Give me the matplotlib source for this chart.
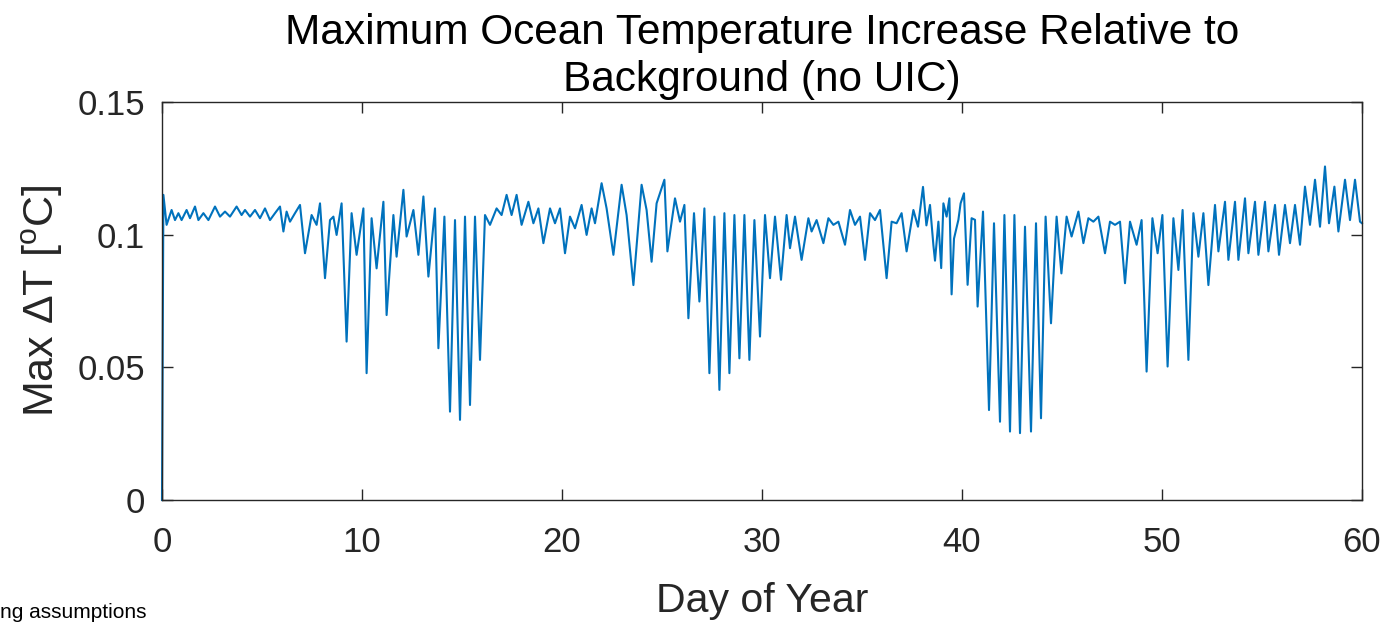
import numpy as np
import matplotlib
matplotlib.use("Agg")
import matplotlib.pyplot as plt

plt.rcParams['font.family'] = ['Liberation Sans', 'DejaVu Sans']
plt.rcParams['mathtext.fontset'] = 'custom'
plt.rcParams['mathtext.rm'] = 'Liberation Sans'
plt.rcParams['mathtext.it'] = 'Liberation Sans:italic'
plt.rcParams['mathtext.bf'] = 'Liberation Sans:bold'

# (day, max dT) vertices, split into segments
seg_days_00_08 = [0.00, 0.07, 0.23, 0.48, 0.65, 0.82, 0.98, 1.23, 1.40, 1.65, 1.82, 2.07, 2.32, 2.65, 2.90,
                  3.15, 3.40, 3.73, 3.98, 4.15, 4.40, 4.65, 4.90, 5.15, 5.40, 5.65, 5.90, 6.07, 6.23, 6.40,
                  6.65, 6.90, 7.15, 7.48, 7.73, 7.90]
seg_vals_00_08 = [0.0, 0.115, 0.1037, 0.1093, 0.1055, 0.1081, 0.1055, 0.1093, 0.1062, 0.1106, 0.1055, 0.1081,
                  0.1055, 0.1106, 0.1068, 0.1087, 0.1068, 0.1106, 0.1074, 0.1093, 0.1068, 0.1093, 0.1062,
                  0.1099, 0.1055, 0.1081, 0.1106, 0.1012, 0.1087, 0.1049, 0.1081, 0.1112, 0.0930, 0.1074,
                  0.1037, 0.1118]

seg_days_08_15 = [8.15, 8.40, 8.57, 8.73, 8.98, 9.23, 9.48, 9.73, 10.07, 10.23, 10.48, 10.73, 11.07, 11.23,
                  11.57, 11.73, 12.07, 12.23, 12.57, 12.82, 13.07, 13.32, 13.65, 13.82, 14.12, 14.40, 14.65,
                  14.90]
seg_vals_08_15 = [0.0836, 0.1055, 0.1068, 0.0999, 0.1118, 0.0597, 0.1081, 0.0924, 0.1099, 0.0478, 0.1062,
                  0.0873, 0.1124, 0.0697, 0.1074, 0.0917, 0.1169, 0.0993, 0.1093, 0.0924, 0.1144, 0.0842,
                  0.1099, 0.0572, 0.1068, 0.0333, 0.1055, 0.0302]

seg_days_15_23 = [15.15, 15.40, 15.65, 15.90, 16.15, 16.40, 16.73, 16.98, 17.23, 17.48, 17.73, 17.98, 18.32,
                  18.57, 18.82, 19.07, 19.40, 19.65, 19.90, 20.15, 20.40, 20.65, 20.98, 21.23, 21.48, 21.65,
                  21.98, 22.23, 22.57]
seg_vals_15_23 = [0.1068, 0.0358, 0.1068, 0.0528, 0.1074, 0.1037, 0.1099, 0.1074, 0.1150, 0.1074, 0.1150,
                  0.1037, 0.1124, 0.1043, 0.1099, 0.0968, 0.1099, 0.1043, 0.1099, 0.0930, 0.1068, 0.1024,
                  0.1112, 0.0999, 0.1099, 0.1043, 0.1194, 0.1099, 0.0924]

seg_days_23_30 = [22.98, 23.23, 23.57, 23.98, 24.23, 24.48, 24.73, 25.12, 25.27, 25.65, 25.90, 26.12, 26.32,
                  26.60, 26.87, 27.12, 27.37, 27.62, 27.87, 28.12, 28.37, 28.62, 28.87, 29.12, 29.37, 29.62,
                  29.90]
seg_vals_23_30 = [0.1188, 0.1074, 0.0810, 0.1188, 0.1093, 0.0898, 0.1118, 0.1207, 0.0937, 0.1137, 0.1049,
                  0.1112, 0.0685, 0.1081, 0.0748, 0.1099, 0.0478, 0.1068, 0.0415, 0.1081, 0.0478, 0.1074,
                  0.0534, 0.1074, 0.0528, 0.1055, 0.0616]

seg_days_30_38 = [30.15, 30.40, 30.65, 30.95, 31.23, 31.40, 31.65, 31.98, 32.32, 32.48, 32.73, 33.07, 33.32,
                  33.57, 33.82, 34.15, 34.40, 34.65, 34.90, 35.15, 35.40, 35.65, 35.90, 36.23, 36.48, 36.73,
                  36.98, 37.23, 37.57, 37.80]
seg_vals_30_38 = [0.1074, 0.0836, 0.1068, 0.0830, 0.1074, 0.0949, 0.1068, 0.0905, 0.1062, 0.1012, 0.1055,
                  0.0968, 0.1062, 0.1037, 0.1049, 0.0962, 0.1093, 0.1037, 0.1068, 0.0905, 0.1081, 0.1055,
                  0.1093, 0.0836, 0.1049, 0.1043, 0.1081, 0.0937, 0.1093, 0.1030]

seg_days_38_45 = [38.05, 38.22, 38.40, 38.57, 38.65, 38.82, 38.96, 39.07, 39.23, 39.37, 39.48, 39.60, 39.82,
                  39.93, 40.10, 40.28, 40.48, 40.65, 40.78, 41.05, 41.35, 41.60, 41.90, 42.12, 42.40, 42.62,
                  42.90, 43.15, 43.45, 43.70, 43.95, 44.18, 44.45, 44.73, 44.97]
seg_vals_38_45 = [0.1180, 0.1035, 0.1112, 0.0960, 0.0902, 0.1049, 0.0874, 0.1118, 0.1068, 0.1137, 0.0775,
                  0.0985, 0.1056, 0.1118, 0.1156, 0.0811, 0.1062, 0.1056, 0.0729, 0.1087, 0.0339, 0.1043,
                  0.0295, 0.1074, 0.0258, 0.1074, 0.0252, 0.1030, 0.0258, 0.1043, 0.0308, 0.1068, 0.0666,
                  0.1068, 0.0854]

seg_days_45_53 = [45.23, 45.48, 45.82, 46.07, 46.32, 46.57, 46.82, 47.15, 47.40, 47.65, 47.90, 48.15, 48.40,
                  48.73, 48.98, 49.23, 49.52, 49.78, 50.02, 50.28, 50.57, 50.82, 51.03, 51.32, 51.57, 51.82,
                  52.07, 52.32]
seg_vals_45_53 = [0.1068, 0.0993, 0.1087, 0.0968, 0.1062, 0.1049, 0.1068, 0.0930, 0.1049, 0.1037, 0.1049,
                  0.0817, 0.1049, 0.0962, 0.1055, 0.0484, 0.1062, 0.0930, 0.1074, 0.0503, 0.1062, 0.0867,
                  0.1093, 0.0528, 0.1081, 0.0917, 0.1081, 0.0810]

seg_days_53_60 = [52.65, 52.82, 53.15, 53.32, 53.65, 53.82, 54.15, 54.32, 54.65, 54.82, 55.15, 55.32, 55.65,
                  55.85, 56.15, 56.40, 56.65, 56.90, 57.15, 57.40, 57.65, 57.90, 58.15, 58.35, 58.62, 58.82,
                  59.15, 59.40, 59.65, 59.90, 60.00]
seg_vals_53_60 = [0.1112, 0.0937, 0.1124, 0.0905, 0.1124, 0.0905, 0.1137, 0.0930, 0.1124, 0.0924, 0.1124,
                  0.0937, 0.1112, 0.0924, 0.1112, 0.0968, 0.1112, 0.0962, 0.1181, 0.1037, 0.1207, 0.1030,
                  0.1257, 0.1043, 0.1181, 0.1012, 0.1207, 0.1055, 0.1207, 0.1049, 0.1043]

x_ticks = [0, 10, 20, 30, 40, 50, 60]
y_ticks = [0, 0.05, 0.1, 0.15]
y_tick_labels = ['0', '0.05', '0.1', '0.15']
title_text = "Maximum Ocean Temperature Increase Relative to\nBackground (no UIC)"
x_label = "Day of Year"
y_label = r"Max $\Delta$T [$^{\mathrm{o}}$C]"
footer_text = "ng assumptions"

days = np.concatenate([seg_days_00_08, seg_days_08_15, seg_days_15_23, seg_days_23_30,
                       seg_days_30_38, seg_days_38_45, seg_days_45_53, seg_days_53_60])
vals = np.concatenate([seg_vals_00_08, seg_vals_08_15, seg_vals_15_23, seg_vals_23_30,
                       seg_vals_30_38, seg_vals_38_45, seg_vals_45_53, seg_vals_53_60])

W, H = 1385, 622
fig = plt.figure(figsize=(W / 100, H / 100), dpi=100)
ax = fig.add_axes([162 / W, 1 - 500 / H, 1200 / W, 398 / H])

ax.plot(days, vals, color='#0072BD', lw=1.5, clip_on=False)

ax.set_xlim(0, 60)
ax.set_ylim(0, 0.15)
ax.set_xticks(x_ticks)
ax.set_xticklabels([str(t) for t in x_ticks])
ax.set_yticks(y_ticks)
ax.set_yticklabels(y_tick_labels)
ax.tick_params(direction='in', length=8, width=1.0, colors='#262626', labelsize=25,
               top=True, right=True)
ax.tick_params(axis='x', pad=19)
ax.tick_params(axis='y', pad=12)
for s in ax.spines.values():
    s.set_color('#262626')
    s.set_linewidth(1.0)

ax.set_xlabel(x_label, fontsize=29.5, color='#262626', labelpad=16)
ax.set_ylabel(y_label, fontsize=31, color='#262626', labelpad=9)
ax.set_title(title_text, fontsize=30.5, color='black', pad=8, linespacing=1.21)

fig.text(0.0, 1 - 618 / H, footer_text, fontsize=15, ha='left', va='baseline', color='black')

fig.savefig('out.png', dpi=100)
